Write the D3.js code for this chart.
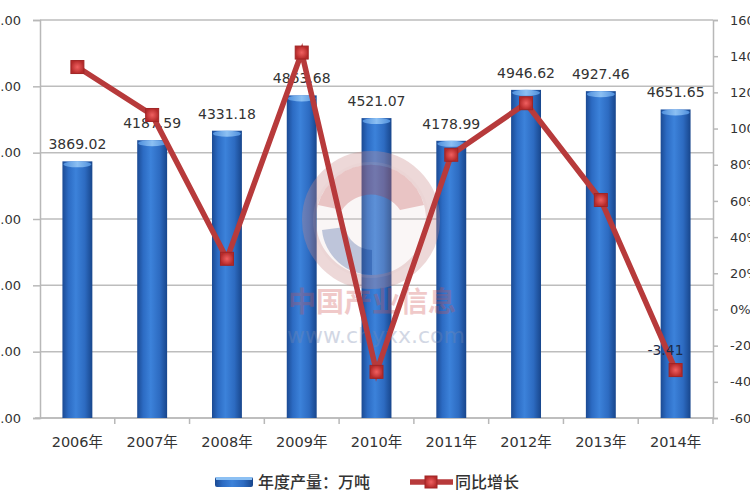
<!DOCTYPE html>
<html><head><meta charset="utf-8">
<script src="https://cdn.jsdelivr.net/npm/d3@7/dist/d3.min.js"></script>
<style>
html,body{margin:0;padding:0;background:#fff;}
svg{display:block;}
text{font-family:"DejaVu Sans","Noto Sans CJK SC",sans-serif;}
</style></head>
<body><svg id="c" width="750" height="500"></svg>
<script>
const categories = ["2006年","2007年","2008年","2009年","2010年","2011年","2012年","2013年","2014年"];
const production = [3869.02,4187.59,4331.18,4863.68,4521.07,4178.99,4946.62,4927.46,4651.65];
const growth = [134,107.5,28,142,-34.5,85.5,114,60.5,-33.5];
const growthLabels = [null,null,null,null,null,null,null,null,"-3.41"];
const leftTicks = [0,1000,2000,3000,4000,5000,6000];
const rightTicks = [-60,-40,-20,0,20,40,60,80,100,120,140,160];
const legendNames = ["年度产量：万吨","同比增长"];

const svg = d3.select("#c");
const L=40,R=713,T=20,B=418;
const x = d3.scaleBand().domain(categories).range([L,R]).paddingInner(0.6).paddingOuter(0.3);
const yL = d3.scaleLinear().domain([0,6000]).range([B,T]);
const yR = d3.scaleLinear().domain([-60,160]).range([B,T]);

const defs = svg.append("defs");
const bg = defs.append("linearGradient").attr("id","barG").attr("x1","0").attr("x2","1").attr("y1","0").attr("y2","0");
[["0%","#1b4a93"],["20%","#2c6bc3"],["45%","#3c82da"],["75%","#2d6bc1"],["100%","#18468c"]].forEach(s=>bg.append("stop").attr("offset",s[0]).attr("stop-color",s[1]));
const cg = defs.append("linearGradient").attr("id","capG").attr("x1","0").attr("x2","1");
[["0%","#4f8fdc"],["50%","#8cc0f3"],["100%","#4f8fdc"]].forEach(s=>cg.append("stop").attr("offset",s[0]).attr("stop-color",s[1]));
const mg = defs.append("radialGradient").attr("id","mkG");
[["0%","#f06060"],["100%","#b52a2a"]].forEach(s=>mg.append("stop").attr("offset",s[0]).attr("stop-color",s[1]));

// gridlines
svg.append("g").selectAll("line").data(leftTicks).join("line")
  .attr("x1",L).attr("x2",R).attr("y1",d=>yL(d)).attr("y2",d=>yL(d))
  .attr("stroke","#bdbdbd").attr("stroke-width",1.5);

// left axis (labels cut at the left edge, as in the reference)
const ga = svg.append("g").attr("transform",`translate(${L},0)`)
  .call(d3.axisLeft(yL).tickValues(leftTicks).tickFormat(d=>d.toFixed(2)).tickSize(7).tickPadding(12));
ga.selectAll("path,line").attr("stroke","#b8b8b8").attr("stroke-width",1.5);
ga.selectAll("text").attr("font-size",13).attr("fill","#333").attr("font-family","DejaVu Sans");

// right axis
const gr = svg.append("g").attr("transform",`translate(${R},0)`)
  .call(d3.axisRight(yR).tickValues(rightTicks).tickFormat(d=>d+"%").tickSize(5).tickPadding(12));
gr.selectAll("path,line").attr("stroke","#b8b8b8").attr("stroke-width",1.5);
gr.selectAll("text").attr("font-size",13).attr("fill","#333").attr("font-family","DejaVu Sans");

// bottom axis
svg.append("line").attr("x1",L-5).attr("x2",R).attr("y1",B).attr("y2",B).attr("stroke","#b8b8b8").attr("stroke-width",1.5);
svg.append("g").selectAll("line").data(categories).join("line")
  .attr("x1",d=>x(d)+x.bandwidth()/2+x.step()/2).attr("x2",d=>x(d)+x.bandwidth()/2+x.step()/2)
  .attr("y1",B).attr("y2",B+6).attr("stroke","#b8b8b8").attr("stroke-width",1.5);
svg.append("g").selectAll("text").data(categories).join("text")
  .attr("x",d=>x(d)+x.bandwidth()/2).attr("y",447).attr("text-anchor","middle")
  .attr("font-size",14.5).attr("fill","#333").text(d=>d);

// bars
const bw = x.bandwidth();
const bars = svg.append("g");
bars.selectAll("rect").data(production).join("rect")
  .attr("x",(d,i)=>x(categories[i])).attr("y",d=>yL(d)).attr("width",bw).attr("height",d=>B-yL(d))
  .attr("fill","url(#barG)");
bars.selectAll("ellipse").data(production).join("ellipse")
  .attr("cx",(d,i)=>x(categories[i])+bw/2).attr("cy",d=>yL(d)+3).attr("rx",bw/2-1).attr("ry",3)
  .attr("fill","url(#capG)");

// data labels
svg.append("g").selectAll("text").data(production).join("text")
  .attr("x",(d,i)=>x(categories[i])+bw/2).attr("y",d=>yL(d)-12).attr("text-anchor","middle")
  .attr("font-size",14).attr("fill","#333").text(d=>d.toFixed(2));

// watermark
const wm = svg.append("g").attr("opacity",0.55);
wm.append("circle").attr("cx",371).attr("cy",220).attr("r",58).attr("fill","#e8d0d0").attr("opacity",0.35);
wm.append("circle").attr("cx",371).attr("cy",220).attr("r",62).attr("fill","none").attr("stroke","#c98a8a").attr("stroke-width",14).attr("opacity",0.6);
wm.append("path").attr("d","M318,205 A55,55 0 0 1 424,205 L400,210 A35,35 0 0 0 342,210 Z").attr("fill","#c04a4a").attr("opacity",0.55);
wm.append("path").attr("d","M322,230 A50,50 0 0 0 372,275 L372,250 A28,28 0 0 1 345,227 Z").attr("fill","#1d3f8a").attr("opacity",0.5);
wm.append("text").attr("x",372).attr("y",312).attr("text-anchor","middle").attr("font-size",28).attr("font-weight","bold")
  .attr("font-family","Noto Sans CJK SC").attr("fill","#d05050").attr("opacity",0.55).text("中国产业信息");
wm.append("text").attr("x",376).attr("y",343).attr("text-anchor","middle").attr("font-size",22)
  .attr("fill","#7a8ab0").attr("opacity",0.6).text("www.chyxx.com");

// line
const pts = growth.map((g,i)=>[x(categories[i])+bw/2, yR(g)]);
svg.append("path").attr("d",d3.line()(pts)).attr("fill","none").attr("stroke","#b73a3b").attr("stroke-width",5.5).attr("stroke-linejoin","miter");
svg.append("g").selectAll("rect").data(pts).join("rect")
  .attr("x",d=>d[0]-6.5).attr("y",d=>d[1]-6.5).attr("width",13).attr("height",13)
  .attr("fill","url(#mkG)").attr("stroke","#a02525").attr("stroke-width",1);
svg.append("g").selectAll("text").data(growthLabels.map((t,i)=>({t,p:pts[i]})).filter(d=>d.t)).join("text")
  .attr("x",d=>d.p[0]+8).attr("y",d=>d.p[1]-15).attr("text-anchor","end")
  .attr("font-size",14).attr("fill","#1c2a48").text(d=>d.t);

// legend
const lg = svg.append("g");
lg.append("rect").attr("x",215).attr("y",477).attr("width",38).attr("height",10).attr("rx",2).attr("fill","url(#barG)");
lg.append("rect").attr("x",216).attr("y",477).attr("width",36).attr("height",3).attr("fill","#8cc0f3");
lg.append("text").attr("x",258).attr("y",488).attr("font-size",16).attr("font-weight",500).attr("font-family","Noto Sans CJK SC").attr("fill","#333").text(legendNames[0]);
lg.append("line").attr("x1",410).attr("x2",453).attr("y1",482).attr("y2",482).attr("stroke","#b73a3b").attr("stroke-width",5.5);
lg.append("rect").attr("x",425).attr("y",476).attr("width",12).attr("height",12).attr("fill","url(#mkG)").attr("stroke","#a02525");
lg.append("text").attr("x",455).attr("y",488).attr("font-size",16).attr("font-weight",500).attr("font-family","Noto Sans CJK SC").attr("fill","#333").text(legendNames[1]);
</script></body></html>
